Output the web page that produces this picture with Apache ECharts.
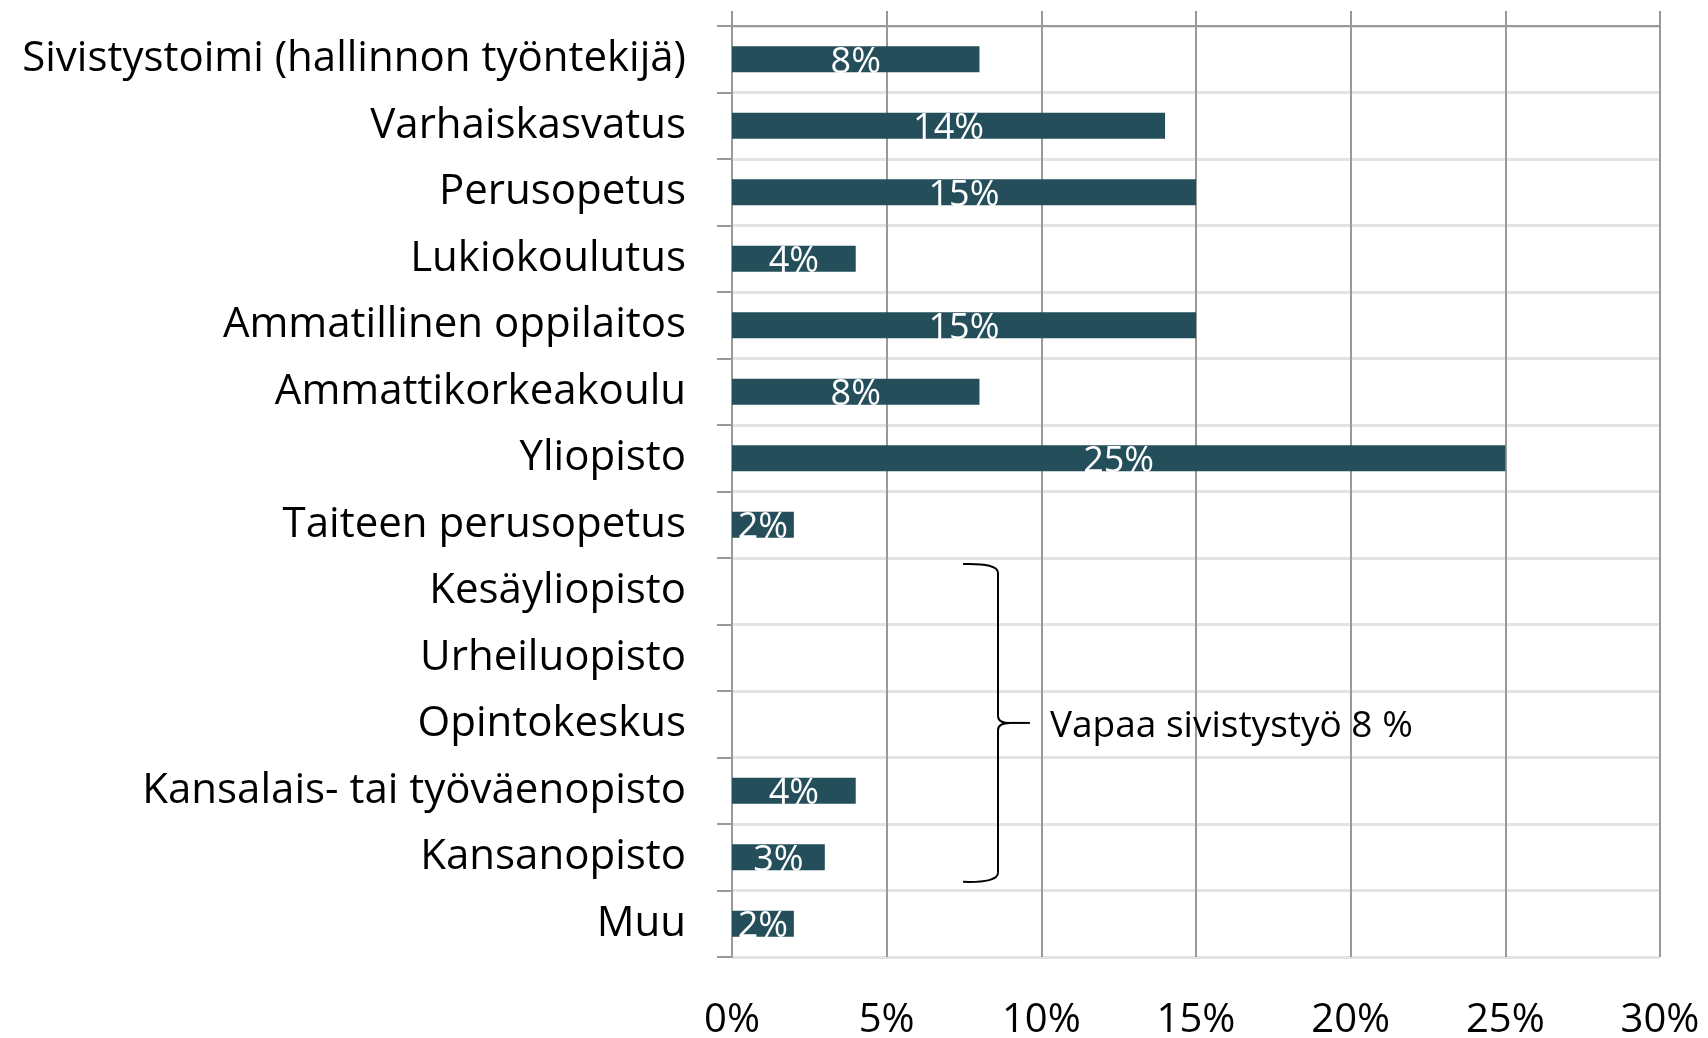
<!DOCTYPE html>
<html>
<head>
<meta charset="utf-8">
<script src="https://cdn.jsdelivr.net/npm/echarts@6/dist/echarts.min.js"></script>
<style>
  html, body { margin: 0; padding: 0; background: #fff; }
  #chart { width: 1708px; height: 1038px; }
</style>
</head>
<body>
<div id="chart"></div>
<script>
const categories = [
  "Sivistystoimi (hallinnon työntekijä)",
  "Varhaiskasvatus",
  "Perusopetus",
  "Lukiokoulutus",
  "Ammatillinen oppilaitos",
  "Ammattikorkeakoulu",
  "Yliopisto",
  "Taiteen perusopetus",
  "Kesäyliopisto",
  "Urheiluopisto",
  "Opintokeskus",
  "Kansalais- tai työväenopisto",
  "Kansanopisto",
  "Muu"
];
const shares = [8, 14, 15, 4, 15, 8, 25, 2, 0, 0, 0, 4, 3, 2];
const xTicks = [0, 5, 10, 15, 20, 25, 30];

// bracket note for the "vapaa sivistystyö" group
const groupFirst = "Kesäyliopisto";
const groupLast = "Kansanopisto";
const groupNote = "Vapaa sivistystyö 8 %";

const FONT = "Open Sans";
const chart = echarts.init(document.getElementById("chart"));

chart.setOption({
  animation: false,
  textStyle: { fontFamily: FONT },
  grid: {
    left: 732, right: 48, top: 26, bottom: 81,
    containLabel: false,
    outerBoundsMode: "none"
  },
  xAxis: [
    {
      type: "value",
      position: "bottom",
      min: xTicks[0],
      max: xTicks[xTicks.length - 1],
      interval: 5,
      axisLine: { show: false },
      axisTick: { show: false },
      axisLabel: {
        formatter: "{value}%",
        color: "#000",
        fontSize: 40,
        fontFamily: FONT,
        margin: 44
      },
      splitLine: { show: true, lineStyle: { color: "#999", width: 2 } }
    },
    {
      type: "value",
      position: "top",
      min: xTicks[0],
      max: xTicks[xTicks.length - 1],
      interval: 5,
      axisLine: { show: true, lineStyle: { color: "#999", width: 2 } },
      axisTick: { show: true, length: 15, lineStyle: { color: "#999", width: 2 } },
      axisLabel: { show: false },
      splitLine: { show: false }
    }
  ],
  yAxis: {
    type: "category",
    inverse: true,
    data: categories,
    axisLine: { show: true, lineStyle: { color: "#999", width: 2 } },
    axisTick: { show: true, length: 15, lineStyle: { color: "#999", width: 2 } },
    axisLabel: {
      color: "#000",
      fontSize: 42,
      fontFamily: FONT,
      margin: 46,
      padding: [10, 0, 0, 0]
    },
    splitLine: { show: true, lineStyle: { color: "#e3e3e3", width: 3 } }
  },
  series: [
    {
      type: "bar",
      data: shares,
      barWidth: 26,
      itemStyle: { color: "#234e5a" },
      label: {
        show: true,
        position: "inside",
        color: "#fff",
        fontSize: 36,
        fontFamily: FONT,
        offset: [0, 3],
        formatter: (p) => (p.value ? p.value + "%" : "")
      },
      z: 3
    }
  ]
});

function drawBracket() {
  const yA = chart.convertToPixel({ yAxisIndex: 0 }, groupFirst);
  const yB = chart.convertToPixel({ yAxisIndex: 0 }, groupLast);
  const row = chart.convertToPixel({ yAxisIndex: 0 }, categories[1]) -
              chart.convertToPixel({ yAxisIndex: 0 }, categories[0]);
  const top = yA - row * 0.41;
  const bot = yB + row * 0.37;
  const mid = (top + bot) / 2;
  const xTip = chart.convertToPixel({ xAxisIndex: 0 }, 7.47);
  const xBar = chart.convertToPixel({ xAxisIndex: 0 }, 8.6);
  const xMid = chart.convertToPixel({ xAxisIndex: 0 }, 9.63);
  const xText = chart.convertToPixel({ xAxisIndex: 0 }, 10.28);
  const stroke = { stroke: "#000", lineWidth: 2, fill: null };
  const curve = (x1, y1, cx, cy, x2, y2) => ({
    type: "bezierCurve",
    shape: { x1, y1, cpx1: cx, cpy1: cy, x2, y2 },
    style: stroke,
    z: 10
  });
  const seg = (x1, y1, x2, y2) => ({
    type: "line",
    shape: { x1, y1, x2, y2 },
    style: stroke,
    z: 10
  });
  chart.setOption({
    graphic: [
      curve(xTip, top, xBar, top - 1, xBar, top + 9),
      seg(xBar, top + 9, xBar, mid - 7),
      curve(xBar, mid - 7, xBar, mid, xBar + 12, mid),
      curve(xBar, mid + 7, xBar, mid, xBar + 12, mid),
      seg(xBar + 12, mid, xMid, mid),
      seg(xBar, mid + 7, xBar, bot - 9),
      curve(xBar, bot - 9, xBar, bot + 1, xTip, bot),
      {
        type: "text",
        x: xText,
        y: mid + 4,
        style: {
          text: groupNote,
          fill: "#000",
          fontSize: 37,
          fontFamily: FONT,
          verticalAlign: "middle"
        },
        z: 10
      }
    ]
  });
}
drawBracket();
</script>
</body>
</html>
